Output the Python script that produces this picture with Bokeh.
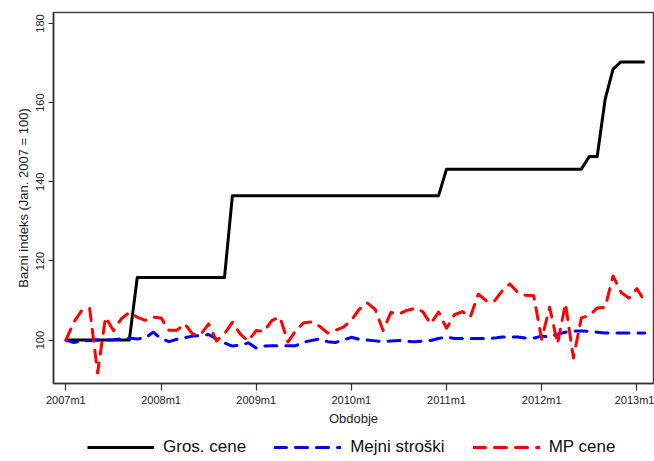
from bokeh.plotting import figure
from bokeh.models import Range1d, FixedTicker, ColumnDataSource, Legend, LegendItem
from bokeh.layouts import column
from bokeh.embed import file_html
from bokeh.resources import INLINE

# Monthly periods 2007m1 .. 2013m2
periods = [f"{y}m{m}" for y in range(2007, 2014) for m in range(1, 13)][:74]

gros_cene = [100.0] * 9 + [115.8] * 12 + [136.5] * 27 + [143.2] * 18 + \
    [146.4, 146.4, 160.8, 168.5, 170.3, 170.3, 170.3, 170.3]

mejni_stroski = [
    100.0, 99.4, 99.8, 99.9, 100.0, 100.0, 100.1, 100.3, 100.5, 100.3,
    100.5, 102.0, 100.4, 99.6, 100.2, 100.6, 101.0, 101.2, 101.4, 100.3,
    99.3, 98.5, 98.7, 99.3, 98.0, 98.5, 98.6, 98.6, 98.6, 98.6,
    99.5, 99.9, 100.3, 99.6, 99.4, 100.0, 100.7, 100.2, 100.0, 99.8,
    99.6, 99.8, 99.9, 99.7, 99.6, 99.7, 99.9, 100.4, 100.8, 100.4,
    100.4, 100.4, 100.4, 100.4, 100.5, 100.8, 100.8, 100.8, 100.5, 100.5,
    101.0, 100.8, 101.5, 102.0, 102.3, 102.3, 102.2, 102.0, 101.8, 101.8,
    101.8, 101.8, 101.8, 101.8,
]

mp_cene = [
    100.0, 104.5, 107.5, 108.0, 91.7, 105.8, 102.4, 105.4, 107.0, 105.8,
    105.0, 105.8, 105.6, 102.5, 102.5, 104.1, 101.5, 101.4, 104.1, 99.8,
    101.6, 104.5, 101.5, 99.8, 102.4, 102.2, 105.0, 105.8, 99.5, 102.4,
    104.4, 104.6, 103.5, 101.8, 102.5, 103.3, 105.0, 107.8, 109.4, 107.8,
    102.4, 107.0, 106.6, 107.5, 108.0, 107.2, 104.1, 107.1, 103.0, 106.4,
    107.2, 105.8, 111.6, 110.0, 109.8, 112.4, 114.2, 112.0, 111.3, 111.2,
    100.2, 108.3, 99.1, 109.2, 95.5, 105.6, 106.2, 108.1, 108.3, 116.2,
    112.1, 110.6, 113.0, 109.8,
]

series_names = ["Gros. cene", "Mejni stroški", "MP cene"]
y_ticks = [100, 120, 140, 160, 180]

x = list(range(len(periods)))
src = ColumnDataSource(dict(x=x, gros=gros_cene, mejni=mejni_stroski, mp=mp_cene))

x_ticks = [i for i, p in enumerate(periods) if p.endswith("m1")]
x_labels = {i: periods[i] for i in x_ticks}

styles = [
    dict(line_color="black", line_width=3, line_join="round"),
    dict(line_color="#0000FF", line_width=3, line_dash="12 9",
         line_cap="round", line_join="round"),
    dict(line_color="#FF0000", line_width=3, line_dash="12 9",
         line_cap="round", line_join="round"),
]
cols = ["gros", "mejni", "mp"]

# ---- main chart ----
p = figure(width=654, height=432, output_backend="svg", toolbar_location=None,
           x_range=Range1d(-1.56, 74.1), y_range=Range1d(89.03, 182.78),
           min_border_left=53, min_border_right=1, min_border_top=12,
           min_border_bottom=49)

for c, st in zip(cols, styles):
    p.line("x", c, source=src, **st)

p.xgrid.visible = False
p.ygrid.visible = False
p.outline_line_color = "#444444"
p.outline_line_width = 1.5
p.background_fill_color = "white"
p.border_fill_color = "white"

for ax in (p.xaxis[0], p.yaxis[0]):
    ax.axis_line_color = "#333333"
    ax.axis_line_width = 1.5
    ax.major_tick_line_color = "#333333"
    ax.major_tick_line_width = 1.2
    ax.major_tick_in = 0
    ax.minor_tick_line_color = None
    ax.major_label_text_font = "Liberation Sans"
    ax.major_label_text_font_size = "11px"
    ax.major_label_text_color = "#222222"
    ax.axis_label_text_font = "Liberation Sans"
    ax.axis_label_text_font_size = "13px"
    ax.axis_label_text_font_style = "normal"
    ax.axis_label_text_color = "#222222"

p.xaxis.ticker = FixedTicker(ticks=x_ticks)
p.xaxis.major_label_overrides = x_labels
p.xaxis.major_tick_out = 7
p.xaxis.major_label_standoff = 3
p.xaxis.axis_label = "Obdobje"
p.xaxis.axis_label_standoff = 2

p.yaxis.ticker = FixedTicker(ticks=y_ticks)
p.yaxis.major_tick_out = 5
p.yaxis.major_label_orientation = "vertical"
p.yaxis.major_label_standoff = 4
p.yaxis.axis_label = "Bazni indeks (Jan. 2007 = 100)"
p.yaxis.axis_label_standoff = 3

# ---- legend strip ----
p2 = figure(width=654, height=29, output_backend="svg", toolbar_location=None,
            x_range=Range1d(1000, 1001), y_range=Range1d(0, 1),
            min_border=0)
p2.axis.visible = False
p2.xgrid.visible = False
p2.ygrid.visible = False
p2.outline_line_color = None
p2.border_fill_color = "white"

lr = [p2.line("x", c, source=src, **st) for c, st in zip(cols, styles)]

lg = Legend(items=[LegendItem(label=n, renderers=[r]) for n, r in zip(series_names, lr)],
            orientation="horizontal", location=(34, 4))
lg.border_line_color = None
lg.background_fill_alpha = 0
lg.label_text_font = "Liberation Sans"
lg.label_text_font_size = "17px"
lg.label_text_color = "#111111"
lg.glyph_width = 67
lg.glyph_height = 20
lg.label_height = 20
lg.label_standoff = 9
lg.spacing = 28
lg.padding = 2
lg.margin = 0
p2.add_layout(lg)

open("out.html", "w").write(file_html(column(p, p2, spacing=0), INLINE))
